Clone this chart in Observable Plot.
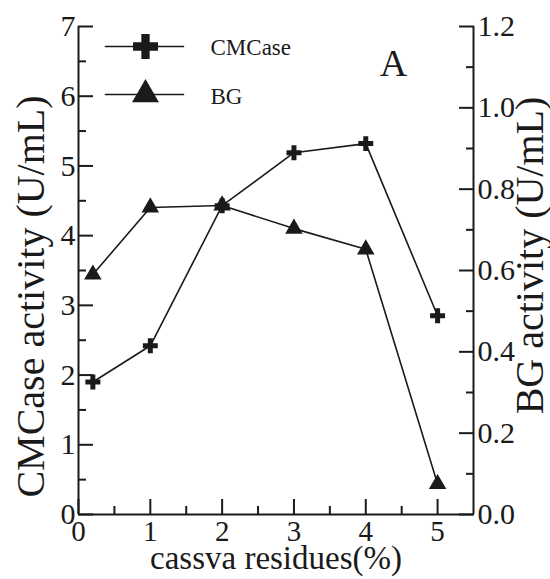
<!DOCTYPE html>
<html><head><meta charset="utf-8">
<script src="https://cdn.jsdelivr.net/npm/d3@7"></script>
<script src="https://cdn.jsdelivr.net/npm/@observablehq/plot@0.6"></script>
<style>html,body{margin:0;padding:0;background:#fff} svg{display:block}</style>
</head><body><div id="chart"></div>
<script>
// ---- data ----
const xValues = [0.2, 1, 2, 3, 4, 5];
const cmcase = [1.9, 2.42, 4.43, 5.19, 5.32, 2.85];
const bg = [0.59, 0.755, 0.76, 0.703, 0.652, 0.075];

const xTicks = [0, 1, 2, 3, 4, 5];
const xMinorTicks = [0.5, 1.5, 2.5, 3.5, 4.5];
const leftTicks = [0, 1, 2, 3, 4, 5, 6, 7];
const leftMinorTicks = [0.5, 1.5, 2.5, 3.5, 4.5, 5.5, 6.5];
const rightTicks = [0, 0.2, 0.4, 0.6, 0.8, 1.0, 1.2];
const rightMinorTicks = [0.1, 0.3, 0.5, 0.7, 0.9, 1.1];

const seriesNames = ["CMCase", "BG"];
const panelLabel = "A";
const xTitle = "cassva residues(%)";
const leftTitle = "CMCase activity (U/mL)";
const rightTitle = "BG activity (U/mL)";

const leftMax = 7, rightMax = 1.2, xMax = 5.5;
const k = leftMax / rightMax;

const rows = xValues.map((x, i) => ({x, cmcase: cmcase[i], bg: bg[i]}));

const FONT = "Liberation Serif, Times New Roman, serif";
const INK = "#1a1a1a";
const lineShape = {draw(ctx, l) { ctx.moveTo(0, 0); ctx.lineTo(0, -l); }};

const chart = Plot.plot({
  width: 550, height: 579,
  marginLeft: 78, marginRight: 77, marginTop: 26, marginBottom: 65,
  style: {fontFamily: FONT, color: INK, background: "#fff"},
  x: {domain: [0, xMax], axis: null},
  y: {domain: [0, leftMax], axis: null},
  marks: [
    // axis lines
    Plot.ruleX([0, xMax], {stroke: INK, strokeWidth: 2}),
    Plot.ruleY([0], {stroke: INK, strokeWidth: 2}),
    // x axis
    Plot.axisX(xTicks, {anchor: "bottom", tickSize: -15, tickPadding: 21, fontSize: 29, fontFamily: FONT, fontVariant: "normal", strokeWidth: 2, label: null, tickFormat: d => String(d)}),
    Plot.axisX(xMinorTicks, {anchor: "bottom", tickSize: -8, text: null, strokeWidth: 2, label: null}),
    // left axis
    Plot.axisY(leftTicks, {anchor: "left", tickSize: -15, tickPadding: 18, fontSize: 30, fontFamily: FONT, fontVariant: "normal", strokeWidth: 2, label: null, tickFormat: d => String(d)}),
    Plot.axisY(leftMinorTicks, {anchor: "left", tickSize: -8, text: null, strokeWidth: 2, label: null}),
    // right axis (BG scale)
    Plot.axisY(rightTicks.map(v => v * k), {anchor: "right", tickSize: -15, tickPadding: 19, fontSize: 30, fontFamily: FONT, fontVariant: "normal", strokeWidth: 2, label: null,
      tickFormat: d => (d / k).toFixed(1)}),
    Plot.axisY(rightMinorTicks.map(v => v * k), {anchor: "right", tickSize: -8, text: null, strokeWidth: 2, label: null}),
    // series
    Plot.line(rows, {x: "x", y: d => d.bg * k, stroke: INK, strokeWidth: 1.6}),
    Plot.line(rows, {x: "x", y: "cmcase", stroke: INK, strokeWidth: 1.6}),
    Plot.dot(rows, {x: "x", y: d => d.bg * k, symbol: "triangle", r: 6.5, fill: INK, stroke: null}),
    Plot.dot(rows, {x: "x", y: "cmcase", symbol: "cross", r: 6.3, fill: INK, stroke: null}),
    // legend
    Plot.vector([seriesNames[0]], {frameAnchor: "top-left", dx: 27, dy: 20, length: 78, rotate: 90, anchor: "start", shape: lineShape, stroke: INK, strokeWidth: 1.6}),
    Plot.vector([seriesNames[1]], {frameAnchor: "top-left", dx: 27, dy: 68, length: 78, rotate: 90, anchor: "start", shape: lineShape, stroke: INK, strokeWidth: 1.6}),
    Plot.dot([seriesNames[0]], {frameAnchor: "top-left", dx: 67, dy: 20, symbol: "cross", r: 10.5, fill: INK, stroke: null}),
    Plot.dot([seriesNames[1]], {frameAnchor: "top-left", dx: 67, dy: 68, symbol: "triangle", r: 10, fill: INK, stroke: null}),
    Plot.text([seriesNames[0]], {frameAnchor: "top-left", dx: 132, dy: 21, text: d => d, textAnchor: "start", lineAnchor: "middle", fontSize: 23, fontFamily: FONT, fill: INK}),
    Plot.text([seriesNames[1]], {frameAnchor: "top-left", dx: 132, dy: 70, text: d => d, textAnchor: "start", lineAnchor: "middle", fontSize: 23, fontFamily: FONT, fill: INK}),
    // panel label
    Plot.text([panelLabel], {frameAnchor: "top-left", dx: 315, dy: 49, text: d => d, textAnchor: "middle", lineAnchor: "bottom", fontSize: 38, fontFamily: FONT, fill: INK}),
    // axis titles
    Plot.text([xTitle], {frameAnchor: "bottom", dy: 54, text: d => d, textAnchor: "middle", lineAnchor: "bottom", fontSize: 33, fontFamily: FONT, fill: INK}),
    Plot.text([leftTitle], {frameAnchor: "left", dx: -35, dy: 26, rotate: -90, text: d => d, textAnchor: "middle", lineAnchor: "bottom", fontSize: 40, fontFamily: FONT, fill: INK}),
    Plot.text([rightTitle], {frameAnchor: "right", dx: 69, dy: -15, rotate: -90, text: d => d, textAnchor: "middle", lineAnchor: "bottom", fontSize: 40, fontFamily: FONT, fill: INK})
  ]
});
document.getElementById("chart").appendChild(chart);
</script>
</body></html>
